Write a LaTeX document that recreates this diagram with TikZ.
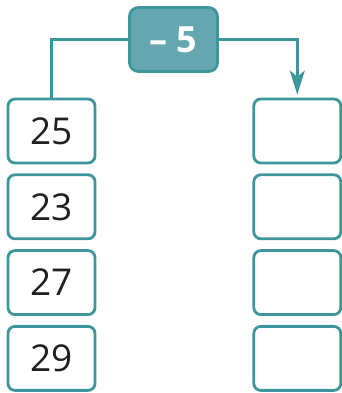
\documentclass[tikz,border=0pt]{standalone}
\usepackage{fontspec}
\setmainfont{Open Sans}
\usetikzlibrary{arrows.meta, positioning}
\definecolor{TealLine}{HTML}{3E959C}
\definecolor{TealFill}{HTML}{64A7AE}
\definecolor{NumInk}{HTML}{231F20}
\tikzset{
  numbox/.style={draw=TealLine, line width=2.8pt, rounded corners=7pt,
    minimum width=87pt, minimum height=64pt, inner sep=0pt, fill=white,
    text=NumInk, font=\fontsize{37}{40}\selectfont},
  opbox/.style={draw=TealLine, line width=2.8pt, rounded corners=9pt,
    minimum width=88pt, minimum height=64pt, inner sep=0pt, fill=TealFill,
    text=white, font=\bfseries\fontsize{36}{40}\selectfont},
  link/.style={draw=TealLine, line width=2.4pt},
  linkarr/.style={link, -{Stealth[length=24pt, width=15pt, inset=6pt]}, shorten >=3pt},
}
\begin{document}
\begin{tikzpicture}[x=1pt, y=1pt, node distance=9pt and 156pt]
    \useasboundingbox (0,0) rectangle (341,393);
    \node[numbox] (in1) at (51.5,262) {25};
    \node[numbox, below=of in1] (in2) {23};
    \node[numbox, below=of in2] (in3) {27};
    \node[numbox, below=of in3] (in4) {29};
    \node[numbox, right=of in1] (out1) {};
    \node[numbox, right=of in2] (out2) {};
    \node[numbox, right=of in3] (out3) {};
    \node[numbox, right=of in4] (out4) {};
    \node[opbox] (op) at (173.5,353.5) {– 5};
    \draw[link] (in1.north) |- (op.west);
    \draw[linkarr] (op.east) -| (out1.north);
  \end{tikzpicture}
\end{document}
